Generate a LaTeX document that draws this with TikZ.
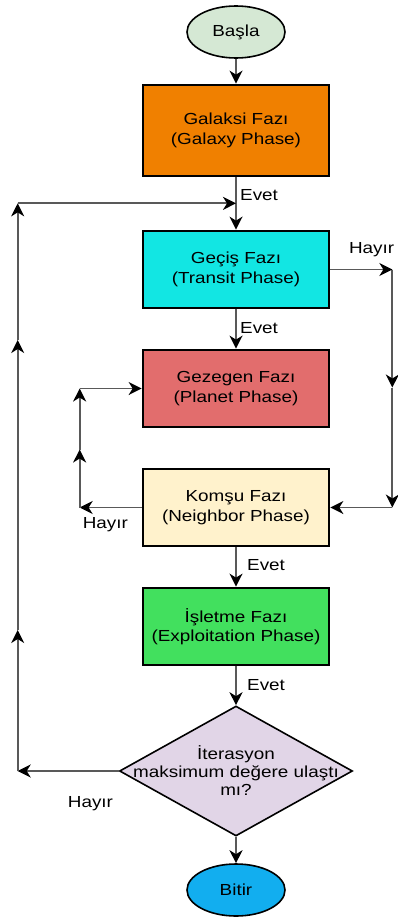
\documentclass[tikz,border=0pt]{standalone}
\usepackage{fontspec}
\setmainfont{Liberation Sans}[FakeStretch=1.18]
\usetikzlibrary{arrows.meta}
\usetikzlibrary{shapes.geometric}
\usetikzlibrary{positioning}
\definecolor{startfill}{HTML}{D5E8D4}
\definecolor{galaxyfill}{HTML}{F08000}
\definecolor{transitfill}{HTML}{12E6E3}
\definecolor{planetfill}{HTML}{E26D6D}
\definecolor{neighborfill}{HTML}{FFF2CC}
\definecolor{exploitfill}{HTML}{42E05E}
\definecolor{checkfill}{HTML}{E1D5E7}
\definecolor{stopfill}{HTML}{12AEEF}
\tikzstyle{terminal} = [ellipse, draw, line width=1.6pt, text centered, minimum width=98pt, minimum height=52pt, font=\fontsize{16}{19.5}\selectfont]
\tikzstyle{phase} = [rectangle, draw, line width=2.7pt, text centered, align=center, minimum width=186pt, minimum height=77pt, font=\fontsize{16}{19.5}\selectfont]
\tikzstyle{decision} = [diamond, draw, line width=1.6pt, minimum width=233pt, minimum height=130pt, inner sep=0pt]
\tikzstyle{flow} = [draw=black!65, line width=1.8pt, -{Stealth[length=13pt, width=13pt, inset=4pt, color=black]}]
\tikzstyle{answer} = [inner sep=0pt, font=\fontsize{16}{19.5}\selectfont]

\begin{document}
\begin{tikzpicture}[x=1pt, y=1pt, node distance=119pt]

		\useasboundingbox (0,0) rectangle (398,-918);

		\node [terminal, fill=startfill] (start) at (236,-32) {Başla};
		\node [phase, fill=galaxyfill, below of=start, yshift=20.5pt, minimum height=91pt] (galaxy) {Galaksi Fazı\\(Galaxy Phase)};
		\node [phase, fill=transitfill, below of=galaxy, yshift=-20pt] (transit) {Geçiş Fazı\\(Transit Phase)};
		\node [phase, fill=planetfill, below of=transit] (planet) {Gezegen Fazı\\(Planet Phase)};
		\node [phase, fill=neighborfill, below of=planet] (neighbor) {Komşu Fazı\\(Neighbor Phase)};
		\node [phase, fill=exploitfill, below of=neighbor] (exploit) {İşletme Fazı\\(Exploitation Phase)};
		\node [decision, fill=checkfill, below of=exploit, yshift=-25.5pt,
			label={[align=center, font=\fontsize{16}{18}\selectfont]center:İterasyon\\maksimum değere ulaştı\\mı?}] (check) {};
		\node [terminal, fill=stopfill, below of=check] (stop) {Bitir};

		% corner points
		\coordinate (merge) at ([yshift=-26pt]galaxy.south);
		\coordinate (hr) at ([xshift=62pt]transit.east);
		\coordinate (hrmid) at ([yshift=-118pt]hr);
		\coordinate (hrlow) at (hr |- neighbor.east);
		\coordinate (hl) at ([xshift=-62pt]neighbor.west);
		\coordinate (hlmid) at ([yshift=58pt]hl);
		\coordinate (hltop) at (hl |- planet.west);
		\coordinate (ol) at ([xshift=-101pt]check.west);
		\coordinate (olmid1) at ([yshift=141pt]ol);
		\coordinate (olmid2) at ([yshift=431pt]ol);
		\coordinate (oltop) at (ol |- merge);

		% labels
		\node [answer, anchor=west] (e1) at ([xshift=4pt, yshift=-18pt]galaxy.south) {Evet};
		\node [answer, anchor=west] (e2) at ([xshift=4pt, yshift=-19pt]transit.south) {Evet};
		\node [answer, anchor=west] (e3) at ([xshift=11pt, yshift=-18pt]neighbor.south) {Evet};
		\node [answer, anchor=west] (e4) at ([xshift=11pt, yshift=-19pt]exploit.south) {Evet};
		\node [answer, above left=12pt and -2pt of hr] (h1) {Hayır};
		\node [answer, below right=10pt and 3pt of hl] (h2) {Hayır};
		\node [answer, below right=25pt and 50pt of ol] (h3) {Hayır};

		% connections
		\draw[flow] (start) -- (galaxy);
		\draw[flow] (galaxy) -- (transit);
		\draw[flow] (transit) -- (planet);
		\draw[flow] (neighbor) -- (exploit);
		\draw[flow] (exploit) -- (check);
		\draw[flow] (check) -- (stop);

		\draw[flow] (transit.east) -- (hr);
		\draw[flow] (hr) -- (hrmid);
		\draw[flow] (hrmid) -- (hrlow);
		\draw[flow] (hrlow) -- (neighbor.east);

		\draw[flow] (neighbor.west) -- (hl);
		\draw[flow] (hl) -- (hlmid);
		\draw[flow] (hlmid) -- (hltop);
		\draw[flow] (hltop) -- (planet.west);

		\draw[flow] (check.west) -- (ol);
		\draw[flow] (ol) -- (olmid1);
		\draw[flow] (olmid1) -- (olmid2);
		\draw[flow] (olmid2) -- (oltop);
		\draw[flow] (oltop) -- (merge);

	\end{tikzpicture}
\end{document}
